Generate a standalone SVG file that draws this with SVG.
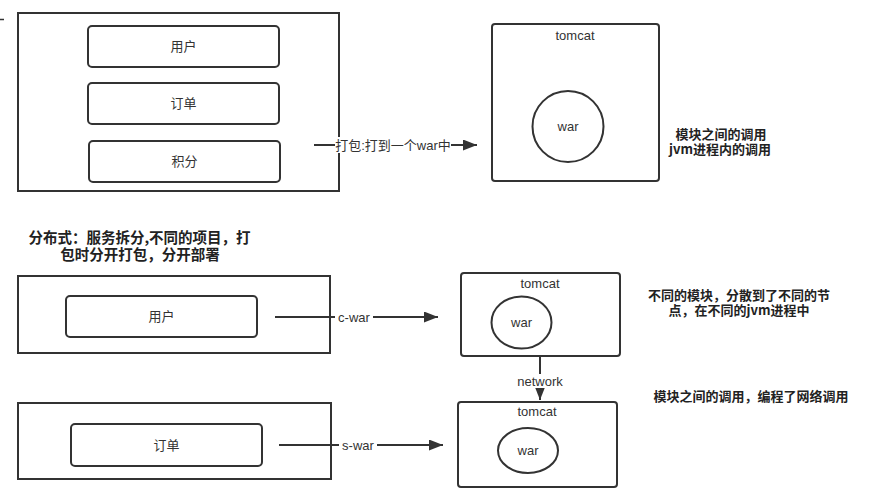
<svg xmlns="http://www.w3.org/2000/svg" width="869" height="492" viewBox="0 0 869 492">
<style>
.box{fill:#fff;stroke:#333;stroke-width:2}
.rbox{fill:#fff;stroke:#333;stroke-width:2}
.line{fill:none;stroke:#333;stroke-width:2}
.t{font-family:"Liberation Sans","Noto Sans CJK SC",sans-serif;font-size:13px;fill:#333;text-anchor:middle;dominant-baseline:central}
.b{font-family:"Noto Sans CJK SC","Liberation Sans",sans-serif;font-size:13px;font-weight:bold;fill:#222;text-anchor:middle;dominant-baseline:central}
.lbl{fill:#fff}
</style>
<defs>
<marker id="arr" viewBox="0 0 10 10" refX="10" refY="5" markerWidth="7" markerHeight="5.5" orient="auto" markerUnits="strokeWidth" preserveAspectRatio="none">
<path d="M0,0 L10,5 L0,10 Z" fill="#333"/>
</marker>
</defs>
<rect width="869" height="492" fill="#fff"/>
<line x1="0" y1="19.5" x2="4" y2="19.5" stroke="#333" stroke-width="1.5"/>

<g id="mono">
<rect class="box" x="18" y="13" width="321" height="178"/>
</g>
<g id="user1"><rect class="rbox" x="88" y="26" width="191" height="41" rx="4"/><text class="t" x="183.5" y="46.5">用户</text></g>
<g id="order1"><rect class="rbox" x="88" y="83" width="191" height="41" rx="4"/><text class="t" x="183.5" y="103.5">订单</text></g>
<g id="points1"><rect class="rbox" x="89" y="141" width="191" height="41" rx="4"/><text class="t" x="184.5" y="161.5">积分</text></g>

<g id="tomcat1">
<rect class="rbox" x="492" y="24" width="167" height="157" rx="3"/>
<text class="t" x="575" y="35">tomcat</text>
<circle class="line" cx="568" cy="126.5" r="35.5"/>
<text class="t" x="568" y="126.5">war</text>
</g>

<g id="note1">
<text class="b" x="721" y="133">模块之间的调用</text>
<text class="b" x="720" y="148">jvm进程内的调用</text>
</g>

<g id="note2">
<text class="b" x="139.5" y="236" style="font-size:14.5px">分布式：服务拆分,不同的项目，打</text>
<text class="b" x="140" y="253" style="font-size:14.5px">包时分开打包，分开部署</text>
</g>

<g id="cbox"><rect class="box" x="18" y="276" width="312" height="77"/></g>
<g id="user2"><rect class="rbox" x="66" y="296" width="191" height="41" rx="4"/><text class="t" x="161.5" y="316.5">用户</text></g>

<g id="sbox"><rect class="box" x="18" y="403" width="313" height="76"/></g>
<g id="order2"><rect class="rbox" x="71" y="424" width="191" height="42" rx="4"/><text class="t" x="166.5" y="445">订单</text></g>

<g id="tomcat2">
<rect class="rbox" x="461" y="273" width="159" height="83" rx="3"/>
<text class="t" x="540" y="283">tomcat</text>
<ellipse class="line" cx="521.5" cy="322.5" rx="30" ry="26"/>
<text class="t" x="521.5" y="322.5">war</text>
</g>

<g id="tomcat3">
<rect class="rbox" x="458" y="402" width="159" height="85" rx="3"/>
<text class="t" x="537" y="411.5">tomcat</text>
<ellipse class="line" cx="528" cy="450.5" rx="30" ry="22.5"/>
<text class="t" x="528" y="450.5">war</text>
</g>

<g id="note3">
<text class="b" x="739" y="294">不同的模块，分散到了不同的节</text>
<text class="b" x="739" y="309">点，在不同的jvm进程中</text>
</g>
<g id="note4">
<text class="b" x="751" y="395">模块之间的调用，编程了网络调用</text>
</g>

<g id="connectors">
<line class="line" x1="314" y1="145" x2="477" y2="145" marker-end="url(#arr)"/>
<rect class="lbl" x="335" y="137" width="116" height="16"/>
<text class="t" x="393" y="145">打包:打到一个war中</text>

<line class="line" x1="275" y1="317" x2="438" y2="317" marker-end="url(#arr)"/>
<rect class="lbl" x="335" y="310" width="38" height="14"/>
<text class="t" x="354" y="317">c-war</text>

<line class="line" x1="279" y1="445" x2="443" y2="445" marker-end="url(#arr)"/>
<rect class="lbl" x="339" y="438" width="38" height="14"/>
<text class="t" x="358" y="445">s-war</text>

<line class="line" x1="540" y1="356" x2="540" y2="400" marker-end="url(#arr)"/>
<rect class="lbl" x="514" y="374" width="52" height="14"/>
<text class="t" x="540" y="381">network</text>
</g>
</svg>
